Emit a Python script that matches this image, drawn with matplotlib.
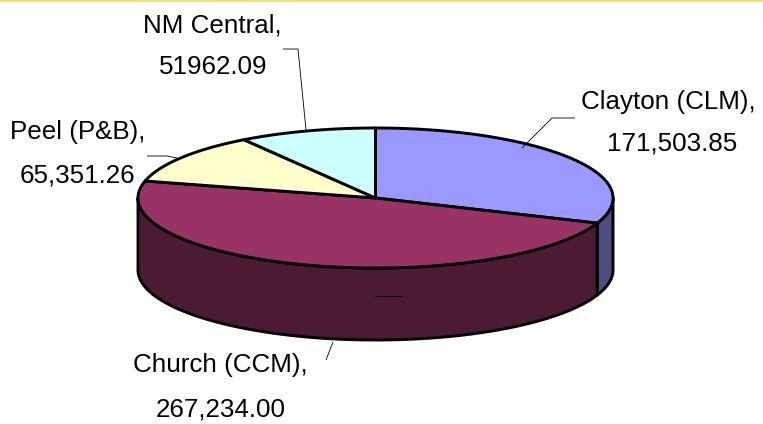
import numpy as np
import matplotlib
matplotlib.use("Agg")
import matplotlib.pyplot as plt
from matplotlib.patches import Polygon

names = ["Clayton (CLM),", "Church (CCM),", "Peel (P&B),", "NM Central,"]
value_labels = ["171,503.85", "267,234.00", "65,351.26", "51962.09"]
values = [171503.85, 267234.00, 65351.26, 51962.09]
top_colors = ["#9999FF", "#993366", "#FFFFCC", "#CCFFFF"]
side_colors = ["#4D4D80", "#4D1A33", "#808066", "#668080"]

W, H = 763, 424
CX, CY, A, B, DEPTH = 375.5, 198, 237.5, 70, 72
LW = 2.1

fig = plt.figure(figsize=(W / 100, H / 100), dpi=100, facecolor="white")
ax = fig.add_axes([0, 0, 1, 1])
ax.set_xlim(0, W)
ax.set_ylim(H, 0)
ax.axis("off")
plt.rcParams["font.family"] = ["Liberation Sans", "DejaVu Sans"]

ax.axhspan(0, 2, color="#F5E46B", lw=0)


def rim(t0, t1, dy=0.0):
    t = np.radians(np.linspace(t0, t1, max(int(abs(t1 - t0)) * 2, 2)))
    return np.column_stack([CX + A * np.sin(t), CY - B * np.cos(t) + dy])


edges = 360 * np.concatenate([[0], np.cumsum(values)]) / np.sum(values)

# Side wall: only the near half of the rim (90..270 degrees) is visible
for i in range(len(values)):
    lo, hi = max(edges[i], 90), min(edges[i + 1], 270)
    if lo < hi:
        top = rim(lo, hi)
        bottom = rim(hi, lo, DEPTH)
        ax.add_patch(Polygon(np.vstack([top, bottom]), closed=True,
                             fc=side_colors[i], ec="black", lw=LW, joinstyle="round", zorder=2))

# Top face
for i in range(len(values)):
    pts = np.vstack([[CX, CY], rim(edges[i], edges[i + 1])])
    ax.add_patch(Polygon(pts, closed=True, fc=top_colors[i], ec="black",
                         lw=LW, joinstyle="round", zorder=3))

# Leader lines
leaders = [
    ([575, 552, 522], [118, 118, 148]),
    ([375, 402], [296, 296]),
    ([147, 167, 177], [156, 156, 158]),
    ([283, 298, 306], [49, 49, 130]),
    ([333, 326], [342, 360]),
]
for xs, ys in leaders:
    ax.plot(xs, ys, color="black", lw=0.6, zorder=4, solid_capstyle="butt")

# Labels
name_pos = [(668, 102), (220, 365), (78, 132), (212, 25)]
value_pos = [(672, 143), (221, 409), (77, 175), (213, 67)]
for name, val, p, q in zip(names, value_labels, name_pos, value_pos):
    ax.text(p[0], p[1], name, ha="center", va="center", fontsize=18.7, color="black", zorder=5)
    ax.text(q[0], q[1], val, ha="center", va="center", fontsize=18.7, color="black", zorder=5)

fig.savefig("out.png", dpi=100, facecolor="white")
